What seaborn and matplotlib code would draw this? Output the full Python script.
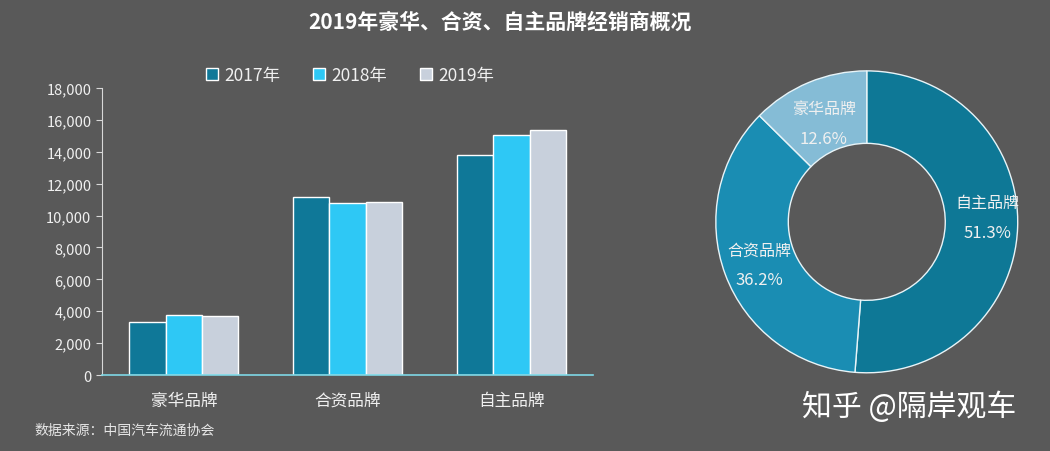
import matplotlib
matplotlib.use("Agg")
import matplotlib.pyplot as plt
import seaborn as sns
import pandas as pd
import numpy as np

categories = ["豪华品牌", "合资品牌", "自主品牌"]
years = ["2017年", "2018年", "2019年"]
v2017 = [3340, 11140, 13780]
v2018 = [3780, 10760, 15040]
v2019 = [3720, 10830, 15380]
share_labels = ["自主品牌", "合资品牌", "豪华品牌"]
share_values = [51.3, 36.2, 12.6]

BG = "#595959"
bar_colors = ["#0f7898", "#2ec8f5", "#c8d0dc"]
pie_colors = ["#0e7896", "#1a8db3", "#85bcd6"]
TXT = "#f0f0f0"

sns.set_theme(style="dark")
plt.rcParams["font.family"] = ["Noto Sans CJK SC", "DejaVu Sans"]
plt.rcParams["axes.unicode_minus"] = False

rows = []
for y, vals in zip(years, [v2017, v2018, v2019]):
    for c, v in zip(categories, vals):
        rows.append({"品牌": c, "年份": y, "数量": v})
df = pd.DataFrame(rows)

fig = plt.figure(figsize=(10.5, 4.52), dpi=100)
fig.patch.set_facecolor(BG)

ax = fig.add_axes([0.097, 0.168, 0.468, 0.635])
ax.set_facecolor(BG)
sns.barplot(data=df, x="品牌", y="数量", hue="年份", order=categories,
            hue_order=years, palette=bar_colors, width=0.665, gap=0,
            edgecolor="white", linewidth=1.0, saturation=1, ax=ax, errorbar=None)
ax.set_xlim(-0.5, 2.5)
ax.set_ylim(0, 18000)
ax.set_yticks(np.arange(0, 18001, 2000))
ax.set_yticklabels([f"{int(t):,}" for t in np.arange(0, 18001, 2000)])
ax.set_xlabel("")
ax.set_ylabel("")
ax.grid(False)
for s in ["top", "right"]:
    ax.spines[s].set_visible(False)
ax.spines["left"].set_color("#d8d8d8")
ax.spines["left"].set_linewidth(0.8)
ax.spines["bottom"].set_color("#7fd8e6")
ax.spines["bottom"].set_linewidth(1.2)
ax.tick_params(axis="y", colors="#d8d8d8", labelcolor=TXT, labelsize=10.5,
               length=4, width=0.8, direction="out", left=True)
ax.tick_params(axis="x", length=0, labelcolor=TXT, labelsize=12, pad=12)

leg = ax.legend(loc="center", bbox_to_anchor=(0.505, 1.045), ncol=3,
                frameon=False, handlelength=0.7, handleheight=0.7,
                columnspacing=1.9, handletextpad=0.35, fontsize=12.5)
for t in leg.get_texts():
    t.set_color(TXT)

# Donut
pax = fig.add_axes([0.673, 0.153, 0.305, 0.708])
pax.set_facecolor(BG)
wedges, _ = pax.pie(share_values, colors=pie_colors, startangle=90,
                    counterclock=False, radius=1.0,
                    wedgeprops=dict(width=0.48, edgecolor="#e8f4f8", linewidth=1.0))
pax.set_xlim(-1.06, 1.06)
pax.set_ylim(-1.06, 1.06)
pax.set_aspect("equal")
pax.axis("off")
label_r = [0.80, 0.76, 0.74]
label_dy = [0.06, -0.02, -0.03]
for w, lab, val, r, dy in zip(wedges, share_labels, share_values, label_r, label_dy):
    ang = np.deg2rad((w.theta1 + w.theta2) / 2)
    x, y = r * np.cos(ang), r * np.sin(ang) + dy
    pax.text(x, y + 0.10, lab, ha="center", va="center", color=TXT, fontsize=11.5)
    pax.text(x, y - 0.10, f"{val:.1f}%", ha="center", va="center", color=TXT, fontsize=12)

fig.text(0.476, 0.95, "2019年豪华、合资、自主品牌经销商概况", ha="center", va="center",
         color="white", fontsize=15, fontweight="bold")
fig.text(0.033, 0.048, "数据来源：中国汽车流通协会", ha="left", va="center",
         color="#e6e6e6", fontsize=10)
fig.text(0.866, 0.098, "知乎 @隔岸观车", ha="center", va="center",
         color="white", fontsize=21.5)

fig.savefig("out.png", dpi=100, facecolor=BG)
